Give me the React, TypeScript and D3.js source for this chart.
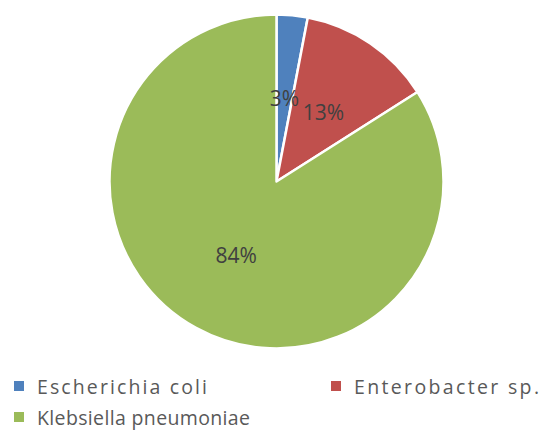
import React from "react";
import * as d3 from "d3";

const categories = ["Escherichia coli", "Enterobacter sp.", "Klebsiella pneumoniae"];
const shares = [3, 13, 84];
const colors = ["#4F81BD", "#C0504D", "#9BBB59"];

const W = 542;
const H = 436;
const cx = 276.5;
const cy = 181.5;
const R = 167;

type Slice = { name: string; value: number; color: string };

const slices: Slice[] = categories.map((name, i) => ({
  name,
  value: shares[i],
  color: colors[i],
}));

// legend slots: two columns on the first row, one on the second
const legendSlots = [
  { x: 14, y: 381, textWidth: 170 },
  { x: 331, y: 381, textWidth: 185 },
  { x: 14, y: 412, textWidth: 213 },
];

export default function App() {
  const pie = d3
    .pie<Slice>()
    .value((d) => d.value)
    .sort(null);
  const arcs = pie(slices);
  const arc = d3.arc<d3.PieArcDatum<Slice>>().innerRadius(0).outerRadius(R);

  return (
    <svg
      width={W}
      height={H}
      viewBox={`0 0 ${W} ${H}`}
      style={{ position: "absolute", left: 0, top: 0, background: "#ffffff" }}
    >
      <g transform={`translate(${cx},${cy})`}>
        {arcs.map((a) => (
          <path
            key={a.data.name}
            d={arc(a) ?? ""}
            fill={a.data.color}
            stroke="#ffffff"
            strokeWidth={2.5}
            strokeLinejoin="round"
          />
        ))}
        {arcs.map((a) => {
          const [lx, ly] = arc.centroid(a);
          return (
            <text
              key={a.data.name + "-label"}
              x={lx}
              y={ly}
              textAnchor="middle"
              dominantBaseline="central"
              fontFamily="Open Sans, sans-serif"
              fontSize={21}
              fill="#404040"
            >
              {`${a.data.value}%`}
            </text>
          );
        })}
      </g>
      <g fontFamily="Open Sans, sans-serif" fontSize={19.5} fill="#595959">
        {slices.map((s, i) => {
          const slot = legendSlots[i];
          return (
            <g key={s.name + "-legend"}>
              <rect x={slot.x} y={slot.y} width={10} height={10} fill={s.color} />
              <text
                x={slot.x + 23}
                y={slot.y + 13}
                textLength={slot.textWidth}
                lengthAdjust="spacing"
              >
                {s.name}
              </text>
            </g>
          );
        })}
      </g>
    </svg>
  );
}
